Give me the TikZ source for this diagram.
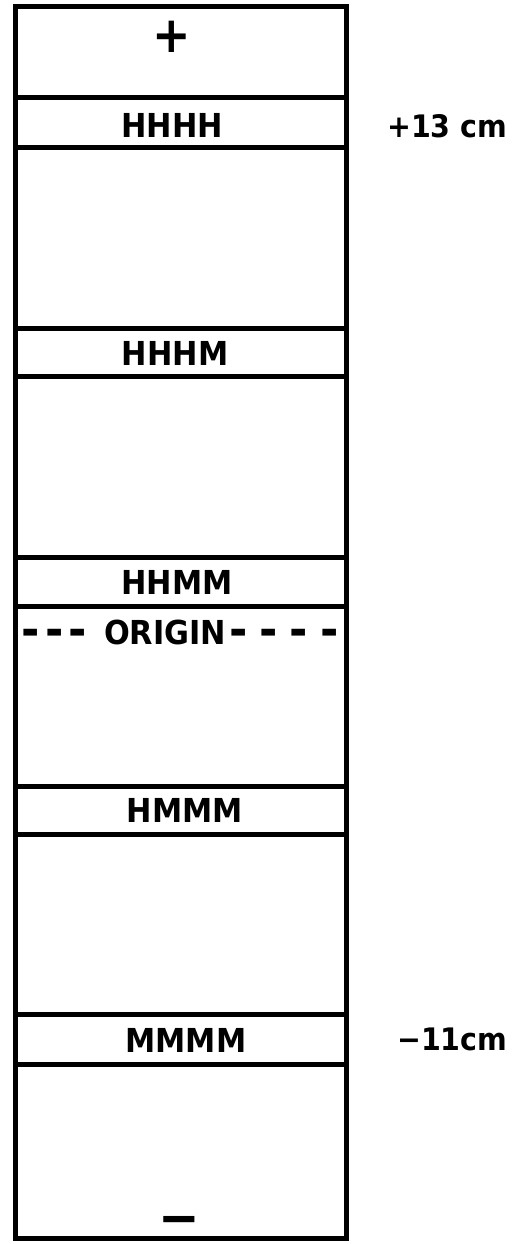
\documentclass[tikz,border=0pt]{standalone}
\usepackage{fontspec}
\setmainfont{DejaVu Sans}[FakeStretch=0.92]
\begin{document}
\begin{tikzpicture}[x=1pt,y=-1pt,
  column/.style={draw, line width=5pt, minimum width=331pt, inner sep=0pt},
  band/.style={draw, line width=5pt, minimum width=331pt, inner sep=0pt},
  lettering/.style={inner sep=0pt, font=\bfseries\fontsize{33}{33}\selectfont},
  distlabel/.style={inner sep=0pt, anchor=west, font=\bfseries\fontsize{31}{31}\selectfont},
  pole/.style={inner sep=0pt, font=\bfseries\fontsize{50}{50}\selectfont}]
\useasboundingbox (0,0) rectangle (531,1244);

% outer column
\node[column, minimum height=1231pt] (col) at (181,622.5) {};

% marker bands
\node[band, minimum height=50pt] (hhhh) at (181,122.5) {};
\node[band, minimum height=48pt] (hhhm) at (181,352) {};
\node[band, minimum height=49pt] (hhmm) at (181,581.5) {};
\node[band, minimum height=48pt] (hmmm) at (181,810) {};
\node[band, minimum height=50pt] (mmmm) at (181,1039) {};

% band names
\node[lettering] (thhhh) at (172,125) {HHHH};
\node[lettering] (thhhm) at (175,353) {HHHM};
\node[lettering] (thhmm) at (177,582) {HHMM};
\node[lettering] (thmmm) at (185,810) {HMMM};
\node[lettering] (tmmmm) at (186,1040) {MMMM};

% origin line, dashes set large so they come out long and heavy
\node[lettering, anchor=west] (origin) at (21,633)
  {\raisebox{-2pt}{\fontsize{48}{48}\selectfont -\hspace{5.5pt}-\hspace{5.5pt}-}\hspace{17pt}ORIGIN\hspace{3pt}%
   \raisebox{-2pt}{\fontsize{48}{48}\selectfont -\hspace{12pt}-\hspace{12pt}-\hspace{12pt}-}};

% poles
\node[pole] (plus) at (172,37) {+};
\node[pole, font=\bfseries\fontsize{54}{54}\selectfont] (minus) at (179,1226) {−};

% distances
\node[distlabel] (top) at (387,126) {+13 cm};
\node[distlabel] (bot) at (397,1039) {−11cm};
\end{tikzpicture}
\end{document}
